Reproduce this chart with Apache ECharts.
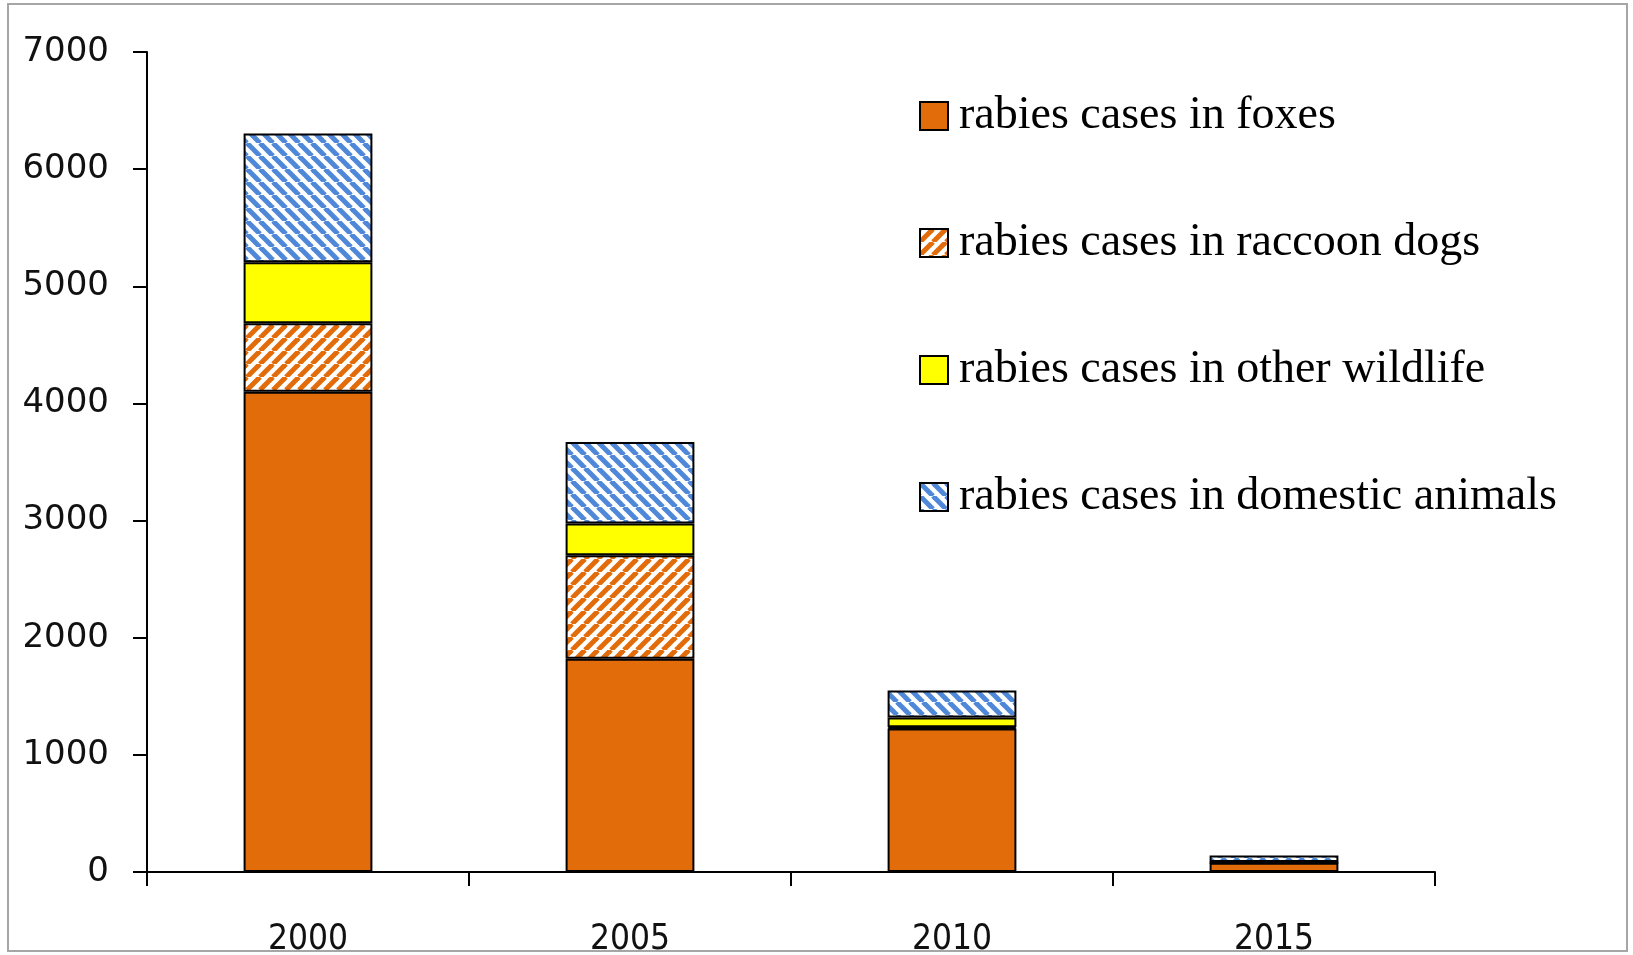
<!DOCTYPE html>
<html>
<head>
<meta charset="utf-8">
<script src="https://cdn.jsdelivr.net/npm/echarts@6/dist/echarts.min.js"></script>
<style>
html,body{margin:0;padding:0;background:#fff;}
#chart{width:1633px;height:955px;}
</style>
</head>
<body>
<div id="chart"></div>
<script>
const categories = ['2000', '2005', '2010', '2015'];
const seriesNames = [
  'rabies cases in foxes',
  'rabies cases in raccoon dogs',
  'rabies cases in other wildlife',
  'rabies cases in domestic animals'
];
const foxes = [4100, 1820, 1225, 80];
const raccoonDogs = [585, 885, 10, 0];
const otherWildlife = [520, 270, 84, 5];
const domesticAnimals = [1100, 695, 231, 55];
const yTicks = [0, 1000, 2000, 3000, 4000, 5000, 6000, 7000];

function stripePattern(color, dir) {
  const s = 13;
  const c = document.createElement('canvas');
  c.width = s; c.height = s;
  const g = c.getContext('2d');
  g.fillStyle = '#ffffff';
  g.fillRect(0, 0, s, s);
  g.strokeStyle = color;
  g.lineWidth = 5;
  for (let k = -1; k <= 1; k++) {
    g.beginPath();
    if (dir === 'up') {
      g.moveTo(k * s, s); g.lineTo(k * s + s, 0);
    } else {
      g.moveTo(k * s, 0); g.lineTo(k * s + s, s);
    }
    g.stroke();
  }
  return { image: c, repeat: 'repeat' };
}

const orange = '#e36c0a';
const blue = '#4f88d8';
const border = { borderColor: '#000', borderWidth: 2 };

const chart = echarts.init(document.getElementById('chart'), null, { renderer: 'canvas' });
const colors = [orange, stripePattern(orange, 'up'), '#ffff00', stripePattern(blue, 'down')];
const datas = [foxes, raccoonDogs, otherWildlife, domesticAnimals];

chart.setOption({
  animation: false,
  backgroundColor: '#fff',
  grid: { left: 147, right: 198, top: 52, bottom: 83, containLabel: false, outerBoundsMode: 'none' },
  graphic: [{
    type: 'rect',
    shape: { x: 8, y: 4, width: 1619, height: 947 },
    style: { fill: 'none', stroke: '#a6a6a6', lineWidth: 2 },
    z: 100
  }],
  legend: {
    orient: 'vertical',
    left: 914,
    top: 86,
    itemWidth: 28,
    itemHeight: 28,
    itemGap: 77,
    icon: 'rect',
    data: seriesNames,
    itemStyle: { borderColor: '#000', borderWidth: 2 },
    textStyle: {
      fontFamily: 'Liberation Serif',
      fontSize: 46,
      lineHeight: 50,
      color: '#000',
      padding: [0, 0, 0, 6]
    }
  },
  xAxis: {
    type: 'category',
    data: categories,
    boundaryGap: true,
    axisLine: { lineStyle: { color: '#000', width: 2 } },
    axisTick: { show: true, length: 14, alignWithLabel: false, lineStyle: { color: '#000', width: 2 } },
    axisLabel: {
      margin: 50,
      fontFamily: 'DejaVu Sans Condensed, DejaVu Sans, sans-serif',
      fontSize: 35,
      color: '#111'
    },
    splitLine: { show: false }
  },
  yAxis: {
    type: 'value',
    min: yTicks[0],
    max: yTicks[yTicks.length - 1],
    interval: 1000,
    axisLine: { show: true, lineStyle: { color: '#000', width: 2 } },
    axisTick: { show: true, length: 14, inside: false, lineStyle: { color: '#000', width: 2 } },
    axisLabel: {
      margin: 38,
      fontFamily: 'DejaVu Sans',
      fontSize: 34,
      color: '#111',
      formatter: function (v) { return String(v); }
    },
    splitLine: { show: false }
  },
  series: seriesNames.map((name, i) => ({
    name: name,
    type: 'bar',
    stack: 'total',
    barWidth: '40%',
    data: datas[i],
    itemStyle: Object.assign({ color: colors[i] }, border),
    emphasis: { disabled: true }
  }))
});
</script>
</body>
</html>
